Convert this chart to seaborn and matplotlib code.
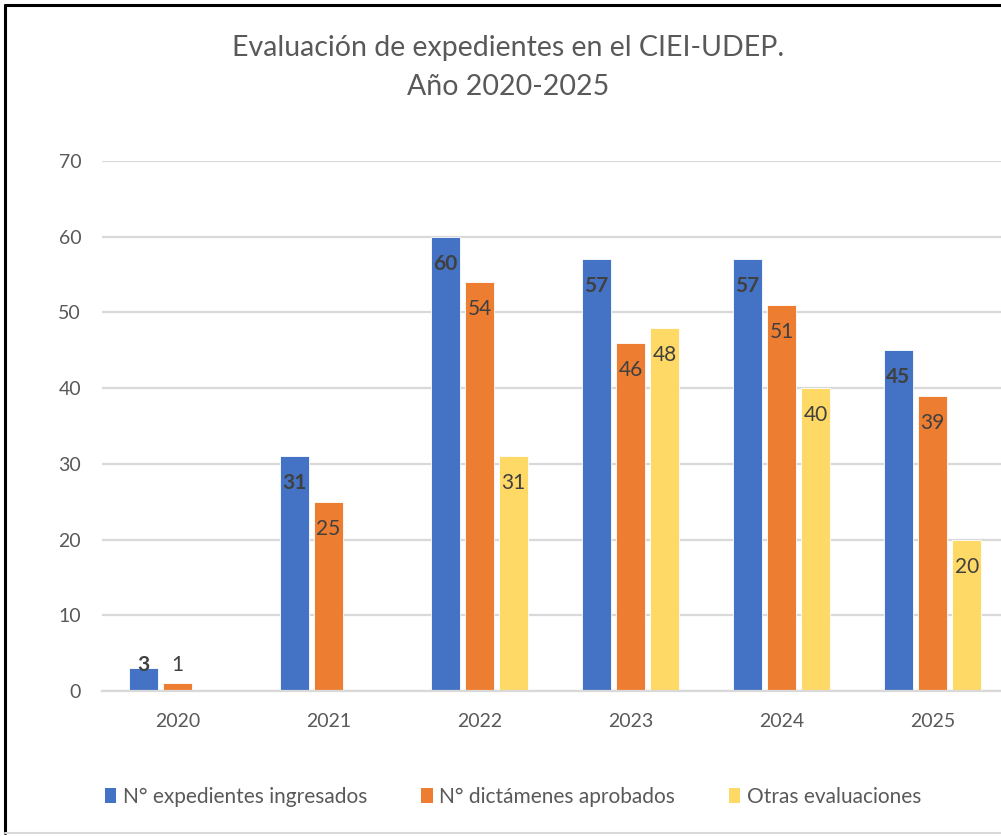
import numpy as np
import pandas as pd
import matplotlib
matplotlib.use("Agg")
import matplotlib.pyplot as plt
from matplotlib.lines import Line2D
from matplotlib.patches import Patch
import seaborn as sns

years = ["2020", "2021", "2022", "2023", "2024", "2025"]
series_names = ["N° expedientes ingresados", "N° dictámenes aprobados", "Otras evaluaciones"]
expedientes = [3, 31, 60, 57, 57, 45]
dictamenes = [1, 25, 54, 46, 51, 39]
otras = [np.nan, np.nan, 31, 48, 40, 20]
colors = ["#4472C4", "#ED7D31", "#FFD966"]
title = "Evaluación de expedientes en el CIEI-UDEP.\nAño 2020-2025"

rows = []
for name, vals in zip(series_names, [expedientes, dictamenes, otras]):
    for y, v in zip(years, vals):
        if not np.isnan(v):
            rows.append({"year": y, "serie": name, "valor": v})
df = pd.DataFrame(rows)

sns.set_theme(style="white")
plt.rcParams["font.family"] = ["Lato", "DejaVu Sans"]

fig = plt.figure(figsize=(10.01, 8.36), dpi=100)
ax = fig.add_axes([102 / 1001, 1 - 691 / 836, 906 / 1001, 530 / 836])

sns.barplot(data=df, x="year", y="valor", hue="serie", order=years,
            hue_order=series_names, palette=colors, width=0.68, gap=0.16,
            edgecolor="white", linewidth=0.6, saturation=1, ax=ax,
            legend=False, errorbar=None)

ax.set_ylim(0, 70)
ax.set_yticks(range(0, 71, 10))
ax.yaxis.grid(True, color="#D9D9D9", linewidth=1.6)
ax.set_axisbelow(True)
for s in ["top", "right", "left"]:
    ax.spines[s].set_visible(False)
ax.spines["bottom"].set_color("#D9D9D9")
ax.spines["bottom"].set_linewidth(1.6)
ax.tick_params(axis="both", length=0, labelsize=14, colors="#595959")
ax.tick_params(axis="y", pad=15)
ax.tick_params(axis="x", pad=16)
ax.set_xlabel("")
ax.set_ylabel("")
ax.set_xlim(-0.5, 5.5)

# data labels (inside end)
px_per_unit = 530 / 70
off = 27 / px_per_unit
for ci, cont in enumerate(ax.containers):
    for bar in cont:
        h = bar.get_height()
        if np.isnan(h) or h <= 0:
            continue
        ylab = max(h - off, 3.45)
        ax.text(bar.get_x() + bar.get_width() / 2, ylab, f"{int(h)}",
                ha="center", va="center", fontsize=15, color="#404040",
                fontweight="bold" if ci == 0 else "normal")

fig.suptitle(title, x=508 / 1001, y=1 - 35 / 836,
             fontsize=20.5, color="#595959", linespacing=1.6, va="top")

handles = [Patch(facecolor=c, edgecolor="none") for c in colors]
fig.legend(handles, series_names, loc="center", bbox_to_anchor=(513 / 1001, 1 - 797 / 836),
           ncol=3, frameon=False, fontsize=15, labelcolor="#595959",
           handlelength=0.55, handleheight=0.7, handletextpad=0.3, columnspacing=2.6)

# frame
fig.add_artist(Line2D([5 / 1001, 5 / 1001], [0.004, 1 - 5 / 836], color="black", linewidth=2.2))
fig.add_artist(Line2D([5 / 1001, 1.0], [1 - 5 / 836, 1 - 5 / 836], color="black", linewidth=2.2))
fig.add_artist(Line2D([5 / 1001, 1.0], [3 / 836, 3 / 836], color="#D9D9D9", linewidth=1.5))

fig.savefig("out.png", dpi=100)
